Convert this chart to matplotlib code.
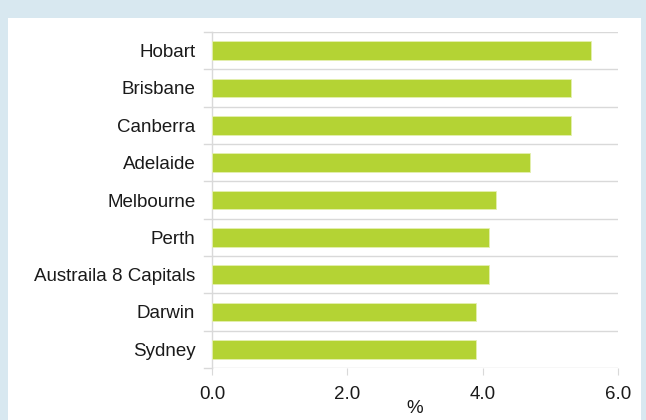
import matplotlib
matplotlib.use("Agg")
import matplotlib.pyplot as plt
import numpy as np

categories = ["Hobart", "Brisbane", "Canberra", "Adelaide", "Melbourne", "Perth",
              "Austraila 8 Capitals", "Darwin", "Sydney"]
values = [5.6, 5.3, 5.3, 4.7, 4.2, 4.1, 4.1, 3.9, 3.9]
xticks = [0.0, 2.0, 4.0, 6.0]
xlabel = "%"

plt.rcParams['font.family'] = ['Liberation Sans', 'DejaVu Sans']
FS = 13.5

fig = plt.figure(figsize=(6.46, 4.20), dpi=100)
fig.patch.set_facecolor('#d8e8f0')
bg = fig.add_axes([8/646, 0, (641-8)/646, (420-18)/420], zorder=-5)
bg.set_facecolor('white')
bg.set_xticks([]); bg.set_yticks([])
for s in bg.spines.values():
    s.set_visible(False)

ax = fig.add_axes([212/646, (420-368)/420, (618-212)/646, (368-32)/420], zorder=1)
ax.set_facecolor('none')
n = len(categories)
y = np.arange(n)[::-1]
ax.barh(y, values, height=0.5, color='#b4d334', edgecolor='#e4f0b0', linewidth=0.6, zorder=3)
ax.set_xlim(0, 6)
ax.set_ylim(-0.5, n - 0.5)
ax.set_yticks(y)
ax.set_yticklabels(categories, fontsize=FS, color='#1a1a1a')
ax.tick_params(axis='y', length=0, pad=12)
for b in np.arange(-0.5, n, 1.0):
    ax.axhline(b, color='#d9d9d9', linewidth=1, zorder=1)
    ax.plot([-0.12, 0], [b, b], color='#d9d9d9', linewidth=1, clip_on=False, zorder=1)
ax.set_xticks(xticks)
ax.set_xticklabels([f"{t:.1f}" for t in xticks], fontsize=FS, color='#1a1a1a')
ax.tick_params(axis='x', length=5, color='#d9d9d9', pad=8)
for s in ['top', 'right', 'bottom']:
    ax.spines[s].set_visible(False)
ax.spines['left'].set_color('#d9d9d9')
ax.spines['left'].set_linewidth(1)
ax.set_xlabel(xlabel, fontsize=FS, labelpad=-2, color='#1a1a1a')
fig.savefig('out.png', dpi=100, facecolor=fig.get_facecolor())
